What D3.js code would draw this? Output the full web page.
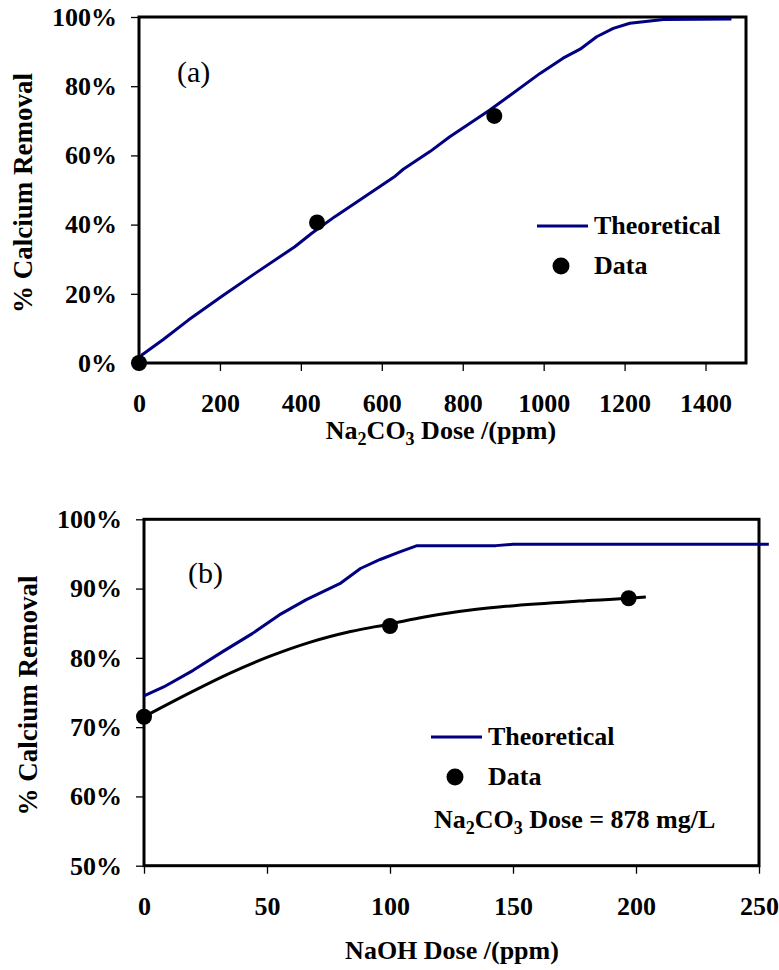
<!DOCTYPE html>
<html>
<head>
<meta charset="utf-8">
<script src="https://cdn.jsdelivr.net/npm/d3@7"></script>
<style>
  html, body { margin: 0; padding: 0; background: #fff; }
</style>
</head>
<body>
<svg id="chart" width="779" height="970" font-family="'Liberation Serif'"></svg>
<script>
// ---- Panel (a): Na2CO3 dose vs. calcium removal ----
const naTheoryDose = [0, 7, 60, 122, 204, 287, 385, 427, 484, 633, 653, 719, 768, 867, 991, 1048, 1090, 1131, 1172, 1213, 1296, 1464];
const naTheoryRemoval = [1.0, 2.3, 6.8, 12.4, 19.2, 25.9, 33.6, 37.5, 42.3, 54.0, 56.0, 61.1, 65.4, 73.1, 83.7, 88.1, 90.7, 94.3, 96.7, 98.2, 99.3, 99.4];
const naDataDose = [0, 440, 878];
const naDataRemoval = [0, 40.6, 71.4];
const naXTicks = [0, 200, 400, 600, 800, 1000, 1200, 1400];
const naYTicks = [0, 20, 40, 60, 80, 100];

// ---- Panel (b): NaOH dose vs. calcium removal (Na2CO3 = 878 mg/L) ----
const ohTheoryDose = [0, 8, 20, 32, 44, 55, 66, 80, 88, 96, 104, 111, 143, 150, 254];
const ohTheoryRemoval = [74.5, 75.8, 78.2, 80.9, 83.5, 86.2, 88.4, 90.8, 92.9, 94.2, 95.3, 96.2, 96.2, 96.4, 96.4];
const ohFitDose = [0, 20, 35, 51, 67, 84, 100, 114, 128, 146, 177, 197, 204];
const ohFitRemoval = [71.5, 75.2, 77.8, 80.2, 82.2, 83.8, 84.9, 85.9, 86.7, 87.4, 88.2, 88.6, 88.8];
const ohDataDose = [0, 100, 197];
const ohDataRemoval = [71.5, 84.6, 88.6];
const ohXTicks = [0, 50, 100, 150, 200, 250];
const ohYTicks = [50, 60, 70, 80, 90, 100];

const NAVY = "#000080";
const FONT = "'Liberation Serif'";
const svg = d3.select("#chart");
const zip = (xs, ys) => xs.map((x, i) => [x, ys[i]]);

// writes a label with chemical subscripts, e.g. Na2CO3
function chemText(t, parts) {
  let lowered = false;
  parts.forEach(p => {
    const s = t.append("tspan").text(p.text);
    if (p.sub) {
      s.attr("dy", lowered ? 0 : 6).attr("font-size", 18);
      lowered = true;
    } else if (lowered) {
      s.attr("dy", -6);
      lowered = false;
    }
  });
}

function drawPanel(cfg) {
  const x = d3.scaleLinear().domain(cfg.xDomain).range([cfg.left, cfg.right]);
  const y = d3.scaleLinear().domain(cfg.yDomain).range([cfg.bottom, cfg.top]);
  const g = svg.append("g").attr("font-family", FONT);

  // plot frame
  g.append("rect")
    .attr("x", cfg.left).attr("y", cfg.top)
    .attr("width", cfg.right - cfg.left).attr("height", cfg.bottom - cfg.top)
    .attr("fill", "none").attr("stroke", "#000").attr("stroke-width", 3);

  const xAxis = g.append("g")
    .attr("transform", `translate(0,${cfg.bottom})`)
    .call(d3.axisBottom(x).tickValues(cfg.xTicks).tickSize(8).tickSizeOuter(0).tickPadding(23).tickFormat(d3.format("d")));
  const yAxis = g.append("g")
    .attr("transform", `translate(${cfg.left},0)`)
    .call(d3.axisLeft(y).tickValues(cfg.yTicks).tickSize(8).tickSizeOuter(0).tickPadding(14).tickFormat(d => d + "%"));
  [xAxis, yAxis].forEach(a => {
    a.attr("font-family", FONT).attr("font-size", 26).attr("font-weight", "bold");
    a.select(".domain").remove();
    a.selectAll(".tick line").attr("stroke", "#000").attr("stroke-width", 1.3);
    a.selectAll(".tick text").attr("fill", "#000");
  });

  const line = d3.line().x(d => x(d[0])).y(d => y(d[1]));
  cfg.lines.forEach(l => {
    g.append("path")
      .datum(zip(l.xs, l.ys))
      .attr("fill", "none")
      .attr("stroke", l.color)
      .attr("stroke-width", 3)
      .attr("stroke-linejoin", "round")
      .attr("d", line.curve(l.curve || d3.curveLinear));
  });

  g.selectAll("circle.pt")
    .data(zip(cfg.dataX, cfg.dataY))
    .join("circle")
    .attr("class", "pt")
    .attr("cx", d => x(d[0])).attr("cy", d => y(d[1]))
    .attr("r", 8).attr("fill", "#000");

  // panel label
  g.append("text")
    .attr("x", cfg.tagX).attr("y", cfg.tagY)
    .attr("font-size", 30)
    .text(cfg.tag);

  // y-axis title
  g.append("text")
    .attr("transform", `translate(${cfg.yTitleX},${(cfg.top + cfg.bottom) / 2 + cfg.yTitleShift}) rotate(-90)`)
    .attr("text-anchor", "middle")
    .attr("font-size", 27).attr("font-weight", "bold")
    .text("% Calcium Removal");

  // x-axis title
  const xt = g.append("text")
    .attr("x", cfg.xTitleX).attr("y", cfg.xTitleY)
    .attr("text-anchor", "middle")
    .attr("font-size", 26).attr("font-weight", "bold");
  chemText(xt, cfg.xTitle);

  // legend
  const lg = g.append("g").attr("font-size", 26).attr("font-weight", "bold");
  lg.append("line")
    .attr("x1", cfg.legX).attr("x2", cfg.legX + 51)
    .attr("y1", cfg.legY).attr("y2", cfg.legY)
    .attr("stroke", NAVY).attr("stroke-width", 3);
  lg.append("text").attr("x", cfg.legX + 57).attr("y", cfg.legY + 8).text("Theoretical");
  lg.append("circle").attr("cx", cfg.legX + 24).attr("cy", cfg.legY + 40).attr("r", 8.5).attr("fill", "#000");
  lg.append("text").attr("x", cfg.legX + 57).attr("y", cfg.legY + 48).text("Data");
  return { g, x, y };
}

drawPanel({
  left: 139, right: 746, top: 17, bottom: 363,
  xDomain: [0, 1500], yDomain: [0, 100],
  xTicks: naXTicks, yTicks: naYTicks,
  lines: [{ xs: naTheoryDose, ys: naTheoryRemoval, color: NAVY }],
  dataX: naDataDose, dataY: naDataRemoval,
  tag: "(a)", tagX: 177, tagY: 82,
  yTitleX: 32, yTitleShift: 3,
  xTitleX: 441, xTitleY: 439,
  xTitle: [{ text: "Na" }, { text: "2", sub: true }, { text: "CO" }, { text: "3", sub: true }, { text: " Dose /(ppm)" }],
  legX: 537, legY: 226
});

const pb = drawPanel({
  left: 144, right: 759, top: 519.3, bottom: 865.7,
  xDomain: [0, 250], yDomain: [50, 100],
  xTicks: ohXTicks, yTicks: ohYTicks,
  lines: [
    { xs: ohFitDose, ys: ohFitRemoval, color: "#000", curve: d3.curveMonotoneX },
    { xs: ohTheoryDose, ys: ohTheoryRemoval, color: NAVY }
  ],
  dataX: ohDataDose, dataY: ohDataRemoval,
  tag: "(b)", tagX: 188, tagY: 583,
  yTitleX: 37, yTitleShift: 3,
  xTitleX: 452, xTitleY: 959,
  xTitle: [{ text: "NaOH Dose /(ppm)" }],
  legX: 431, legY: 737
});

// dose annotation for panel (b)
const note = pb.g.append("text")
  .attr("x", 434).attr("y", 828)
  .attr("font-size", 26).attr("font-weight", "bold");
chemText(note, [{ text: "Na" }, { text: "2", sub: true }, { text: "CO" }, { text: "3", sub: true }, { text: " Dose = 878 mg/L" }]);
</script>
</body>
</html>
